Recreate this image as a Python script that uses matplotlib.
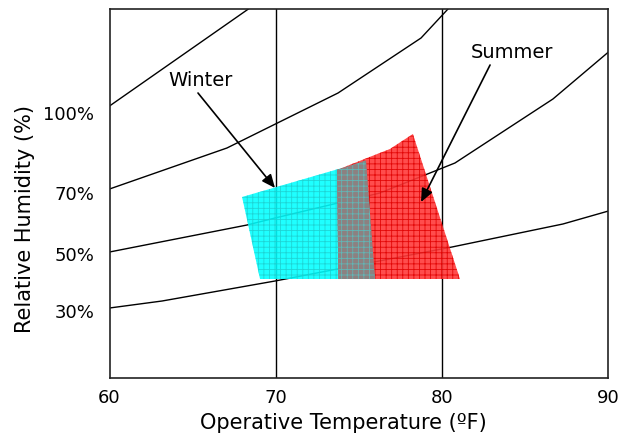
import matplotlib
matplotlib.use("Agg")
import matplotlib.pyplot as plt
from matplotlib.patches import Polygon

plt.rcParams['font.family'] = ['DejaVu Sans']
plt.rcParams['hatch.linewidth'] = 0.6

# Relative humidity curves (x: operative temperature °F, y: humidity ratio, arbitrary units)
rh100_x = [60.0, 68.35]
rh100_y = [13.6, 18.45]
rh70_x = [60.0, 67.06, 73.74, 78.73, 80.35]
rh70_y = [9.45, 11.5, 14.25, 17.0, 18.45]
rh50_x = [60.0, 68.27, 69.95, 76.26, 80.77, 86.66, 90.0]
rh50_y = [6.3, 7.65, 8.0, 9.25, 10.75, 13.95, 16.3]
rh30_x = [60.0, 63.16, 69.95, 80.59, 87.26, 90.0]
rh30_y = [3.5, 3.85, 4.85, 6.55, 7.7, 8.35]

rh_labels = ['100%', '70%', '50%', '30%']
rh_label_pos = [13.25, 9.25, 6.2, 3.35]

# Comfort zones
winter_x = [67.97, 75.42, 75.96, 69.05]
winter_y = [9.05, 10.85, 4.95, 4.95]
summer_x = [73.68, 75.42, 76.86, 78.24, 81.07, 73.76]
summer_y = [10.4, 10.98, 11.45, 12.2, 4.95, 4.95]
overlap_x = [73.68, 75.42, 75.96, 73.76]
overlap_y = [10.4, 10.88, 4.95, 4.95]

# Annotations: label position, arrow start, arrow tip
winter_text = (65.5, 14.9)
winter_from = (65.32, 14.25)
winter_to = (69.95, 9.5)
summer_text = (84.2, 16.3)
summer_from = (82.88, 15.65)
summer_to = (78.73, 8.8)

x_ticks = [60, 70, 80, 90]
v_lines = [70, 80]

fig = plt.figure(figsize=(6.18, 4.37), dpi=100)
ax = fig.add_axes([0.1772, 0.135, 0.8074, 0.8444])
ax.set_xlim(60, 90)
ax.set_ylim(0, 18.45)

for v in v_lines:
    ax.axvline(v, color='black', lw=1.0, zorder=1)

for xs, ys in [(rh100_x, rh100_y), (rh70_x, rh70_y), (rh50_x, rh50_y), (rh30_x, rh30_y)]:
    ax.plot(xs, ys, color='black', lw=1.0, zorder=1, clip_on=True)

ax.add_patch(Polygon(list(zip(winter_x, winter_y)), closed=True,
                     facecolor='#00ffff', edgecolor='#1ecfcf', hatch='+++',
                     lw=0, alpha=0.88, zorder=2))
ax.add_patch(Polygon(list(zip(summer_x, summer_y)), closed=True,
                     facecolor='#ff3a3a', edgecolor='#e00000', hatch='+++',
                     lw=0, alpha=0.9, zorder=2))
ax.add_patch(Polygon(list(zip(overlap_x, overlap_y)), closed=True,
                     facecolor='#858585', edgecolor='#5fbcbc', hatch='+++',
                     lw=0, alpha=0.92, zorder=3))

arrow_style = dict(arrowstyle='-|>,head_length=0.8,head_width=0.35',
                   color='black', lw=1.2, shrinkA=0, shrinkB=0)
ax.text(*winter_text, 'Winter', ha='center', va='center', fontsize=14, zorder=5)
ax.annotate('', xy=winter_to, xytext=winter_from, arrowprops=arrow_style, zorder=5)
ax.text(*summer_text, 'Summer', ha='center', va='center', fontsize=14, zorder=5)
ax.annotate('', xy=summer_to, xytext=summer_from, arrowprops=arrow_style, zorder=5)

ax.set_xticks(x_ticks)
ax.set_xticklabels([str(t) for t in x_ticks], fontsize=13)
ax.set_yticks(rh_label_pos)
ax.set_yticklabels(rh_labels, fontsize=13)
ax.tick_params(axis='x', length=0, pad=8)
ax.tick_params(axis='y', length=0, pad=11)

ax.set_xlabel('Operative Temperature (ºF)', fontsize=15, labelpad=4, x=0.468)
ax.set_ylabel('Relative Humidity (%)', fontsize=15, labelpad=6, y=0.431)

for s in ax.spines.values():
    s.set_linewidth(1.2)
    s.set_color('#222222')

fig.savefig('out.png', dpi=100)
